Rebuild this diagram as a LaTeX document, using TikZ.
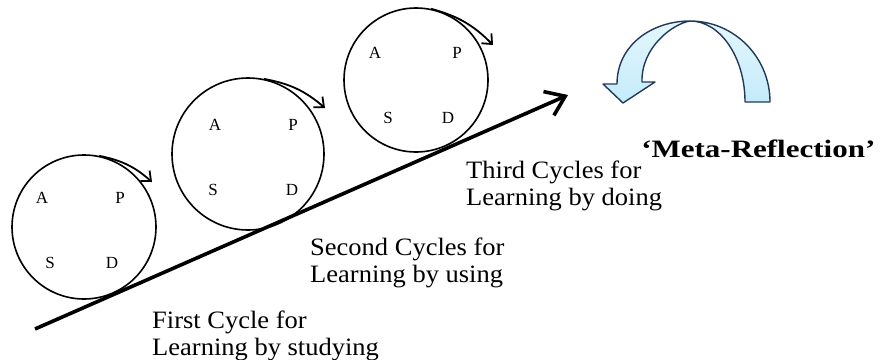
\documentclass[tikz,border=0pt]{standalone}
\usepackage{fontspec}
\setmainfont{Liberation Serif}
\usepackage{tikz}
\usepackage{xcolor}
\usetikzlibrary{positioning,arrows.meta,calc}
\definecolor{arcfill}{HTML}{C4EBFA}
\definecolor{arcfilltop}{HTML}{E4F7FD}
\definecolor{arcline}{HTML}{22395A}

\begin{document}
\begin{tikzpicture}[x=1pt,y=1pt,every node/.style={font=\fontsize{25}{27}\selectfont}]
      \tikzstyle{cyc}=[circle,draw,line width=1.6pt,inner sep=0pt];
      \tikzstyle{let}=[inner sep=0pt,font=\fontsize{17}{17}\selectfont];
      \tikzstyle{turn}=[line width=1.8pt,-{Straight Barb[length=8pt,width=14pt]}];
      \tikzstyle{lab}=[inner sep=0pt,anchor=base west,align=left,xscale=1.06];
      \tikzstyle{band}=[draw=arcline,line width=1.4pt,top color=arcfilltop,bottom color=arcfill,line join=round];
      \useasboundingbox (0,0) rectangle (882,-359);
      \node[cyc,minimum size=144pt] (c1) at (84,-227) {};
      \node[cyc,minimum size=152pt] (c2) at (248,-154) {};
      \node[cyc,minimum size=144pt] (c3) at (416,-80) {};
      \node[let] (a1) at (42,-198) {A};
      \node[let] (p1) at (120,-198) {P};
      \node[let] (s1) at (50,-263) {S};
      \node[let] (d1) at (112,-263) {D};
      \node[let] (a2) at (215,-125) {A};
      \node[let] (p2) at (293,-125) {P};
      \node[let] (s2) at (213,-190) {S};
      \node[let] (d2) at (292,-190) {D};
      \node[let] (a3) at (375,-53) {A};
      \node[let] (p3) at (457,-53) {P};
      \node[let] (s3) at (388,-118) {S};
      \node[let] (d3) at (448,-118) {D};
      \coordinate (t1) at (152,-182);
      \coordinate (t2) at (325,-108);
      \coordinate (t3) at (493,-45);
      \draw[turn] (c1.78) to[bend left=15] (t1);
      \draw[turn] (c2.78) to[bend left=15] (t2);
      \draw[turn] (c3.78) to[bend left=15] (t3);
      \coordinate (s) at (35,-329);
      \coordinate (e) at (568,-95);
      \draw[line width=3.6pt,-{Straight Barb[length=18pt,width=26pt]}] (s) -- (e);
      \node[lab] (l1) at (152,-355) {First Cycle for\\Learning by studying};
      \node[lab] (l2) at (310,-282) {Second Cycles for\\Learning by using};
      \node[lab] (l3) at (466,-205) {Third Cycles for\\Learning by doing};
      \node[lab,font=\fontsize{25}{27}\selectfont\bfseries,xscale=1.17] (mr) at (641,-157) {`Meta-Reflection'};
      \draw[band] (617,-84) .. controls (617,-45) and (652,-21) .. (690,-21)
            .. controls (672,-24) and (641,-48) .. (642,-82)
            -- (655,-82) -- (623,-103) -- (603,-84) -- cycle;
      \draw[band] (770,-102) .. controls (770,-57) and (734,-21) .. (690,-21)
            .. controls (720,-21) and (745,-57) .. (745,-102) -- cycle;
    \end{tikzpicture}
\end{document}
